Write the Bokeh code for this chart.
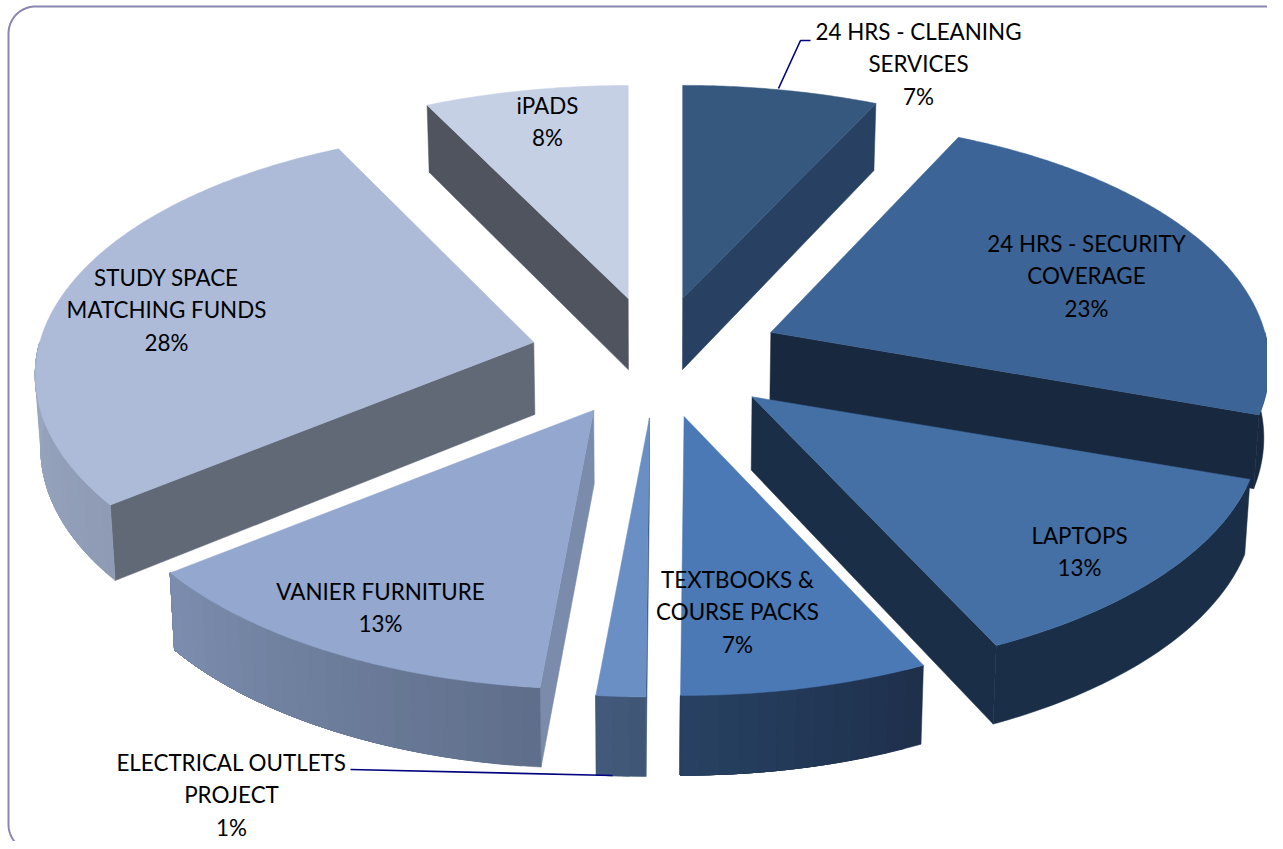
import numpy as np
from bokeh.plotting import figure
from bokeh.models import Range1d
from bokeh.embed import file_html
from bokeh.resources import INLINE
from bokeh.core.properties import value

# ---- data ----
categories = [
    ["24 HRS - CLEANING", "SERVICES"],
    ["24 HRS - SECURITY", "COVERAGE"],
    ["LAPTOPS"],
    ["TEXTBOOKS &", "COURSE PACKS"],
    ["ELECTRICAL OUTLETS", "PROJECT"],
    ["VANIER FURNITURE"],
    ["STUDY SPACE", "MATCHING FUNDS"],
    ["iPADS"],
]
percent_labels = ["7%", "23%", "13%", "7%", "1%", "13%", "28%", "8%"]
shares = [7.0, 23.3, 12.7, 7.1, 1.4, 12.9, 28.3, 7.3]   # slice sizes

# ---- styles ----
top_col   = ["#36587F", "#3D6496", "#4470A6", "#4A79B5", "#6A8FC4", "#93A7CF", "#ADBBD8", "#C6D0E5"]
cut_col   = ["#284162", "#18283F", "#1A2E47", "#1E2F4B", "#3F5575", "#7A8BAC", "#616977", "#50545E"]
wall_from = ["#284162", "#18283F", "#1A2E47", "#1E2F4B", "#3F5575", "#5E6E8A", "#8F9BB5", "#50545E"]
wall_to   = ["#284162", "#18283F", "#1A2E47", "#284263", "#445A7C", "#7C8DAE", "#9AA7C1", "#50545E"]
paint_order = [7, 0, 6, 1, 2, 5, 3, 4]
FONT = "Lato"
FONT_SIZE = "22.4px"

# ---- layout ----
W, H = 1267, 841
CX, CY = 655.5, 355.0
A, B, P = 494.0, 241.6, 0.134     # pie radii and perspective of the disc
A_EXPLODE = 505.0                 # horizontal radius used for the slices' pull-out
EXPLODE = 0.25
rim_x = [1.03, 1.0, 1.02, 1.0, 1.0, 1.0, 1.0, 1.03]   # slight per-slice perspective stretch
D0, D1 = 65.0, 0.021              # wall height as a function of screen height
LEAN = 0.009
label_x = [918, 1086, 1079, 737, 231, 380, 166, 547]
label_y = [31, 243, 535, 579, 762, 591, 277, 105]
LINE_GAP = 32.3
leader_1 = ([778, 800, 810], [88, 40, 40])
leader_2 = ([350, 612], [769, 775])
BORDER_COL = "#8A86AE"


def proj(dx, dy, a=A):
    w = 1 + P * dy
    return a * dx / w, -B * dy / w


def lower(x, y):
    return x - (x - CX) * LEAN, y + D0 + D1 * y


def mix(c0, c1, t):
    a = np.array([int(c0[i:i + 2], 16) for i in (1, 3, 5)], float)
    b = np.array([int(c1[i:i + 2], 16) for i in (1, 3, 5)], float)
    r = a + (b - a) * t
    return "#%02x%02x%02x" % tuple(int(round(v)) for v in r)


edges = np.concatenate([[0.0], np.cumsum(shares)]) / sum(shares) * 360.0
xs, ys, cols = [], [], []


def add(px, py, c):
    xs.append(list(px))
    ys.append(list(py))
    cols.append(c)


for i in paint_order:
    t0, t1 = edges[i], edges[i + 1]
    m = np.radians((t0 + t1) / 2)
    ox, oy = proj(EXPLODE * np.sin(m), EXPLODE * np.cos(m), A_EXPLODE)
    ax, ay = CX + ox, CY + oy

    def rim(t, s=rim_x[i]):
        r = np.radians(t)
        dx, dy = proj(np.sin(r), np.cos(r), A * s)
        return ax + dx, ay + dy

    bax, bay = lower(ax, ay)
    # cut faces that look toward the viewer
    if 180 < t0 % 360 < 360:
        rx, ry = rim(t0)
        bx, by = lower(rx, ry)
        add([ax, rx, bx, bax], [ay, ry, by, bay], cut_col[i])
    if 0 < t1 < 180:
        rx, ry = rim(t1)
        bx, by = lower(rx, ry)
        add([ax, rx, bx, bax], [ay, ry, by, bay], cut_col[i])
    # outer wall: each band runs to the wall's end, so that no seam shows
    lo, hi = max(t0, 90.0), min(t1, 270.0)
    if hi > lo:
        flat = wall_from[i] == wall_to[i]
        n = 1 if flat else max(2, int((hi - lo) / 2) + 1)
        arc = np.linspace(lo, hi, max(3, int(hi - lo) + 2))
        for k in range(n):
            start = lo + (hi - lo) * k / n
            ts = [start] + [t for t in arc if t > start]
            up = [rim(t) for t in ts]
            dn = [lower(*q) for q in up]
            add([q[0] for q in up] + [q[0] for q in dn[::-1]],
                [q[1] for q in up] + [q[1] for q in dn[::-1]],
                mix(wall_from[i], wall_to[i], (k + 0.5) / n))
    # top face
    ts = np.linspace(t0, t1, max(3, int(t1 - t0) * 2 + 1))
    pts = [rim(t) for t in ts]
    add([ax] + [q[0] for q in pts], [ay] + [q[1] for q in pts], top_col[i])

# ---- figure ----
p = figure(width=W, height=H, x_range=Range1d(0, W), y_range=Range1d(H, 0),
           output_backend="svg", toolbar_location=None, min_border=0,
           background_fill_color="white", border_fill_color="white")
p.axis.visible = False
p.grid.visible = False
p.outline_line_color = None

# frame
R = 27.0
LEFT, TOP, BOT = 8.0, 6.0, 851.0
ang = np.radians(np.linspace(180, 270, 24))
bang = np.radians(np.linspace(90, 180, 24))
fx = [W] + list((LEFT + R + R * np.cos(ang))[::-1]) + list((LEFT + R + R * np.cos(bang))[::-1])
fy = [TOP] + list((TOP + R + R * np.sin(ang))[::-1]) + list((BOT - R + R * np.sin(bang))[::-1])
p.line(fx, fy, line_color=BORDER_COL, line_width=2)

p.patches(xs, ys, fill_color=cols, line_color=cols, line_width=0.5)

for lx, ly in (leader_1, leader_2):
    p.line(lx, ly, line_color="#000080", line_width=1.6)

tx, ty, tt = [], [], []
for i, lines in enumerate(categories):
    rows = lines + [percent_labels[i]]
    for j, row in enumerate(rows):
        tx.append(label_x[i])
        ty.append(label_y[i] + j * LINE_GAP)
        tt.append(row)
p.text(tx, ty, text=tt, text_font=value(FONT), text_font_size=value(FONT_SIZE),
       text_color="#000000", text_align="center", text_baseline="middle")

open("out.html", "w").write(file_html(p, INLINE))
